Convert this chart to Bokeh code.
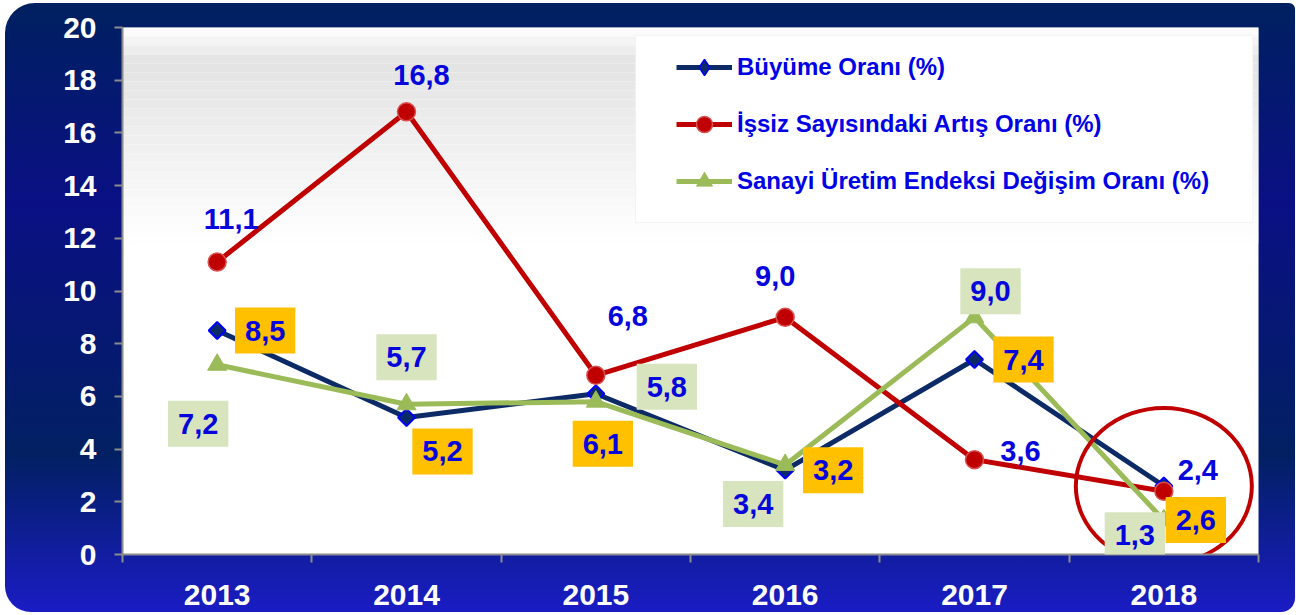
from bokeh.plotting import figure
from bokeh.models import Range1d, FixedTicker, Label, Legend, LegendItem, BoxAnnotation
from bokeh.embed import file_html
from bokeh.resources import INLINE

# ---- data ----
years = ["2013", "2014", "2015", "2016", "2017", "2018"]
buyume = [8.5, 5.2, 6.1, 3.2, 7.4, 2.6]
issiz = [11.1, 16.8, 6.8, 9.0, 3.6, 2.4]
sanayi = [7.2, 5.7, 5.8, 3.4, 9.0, 1.3]
y_ticks = [0, 2, 4, 6, 8, 10, 12, 14, 16, 18, 20]
names = ["Büyüme Oranı (%)", "İşsiz Sayısındaki Artış Oranı (%)",
         "Sanayi Üretim Endeksi Değişim Oranı (%)"]

# ---- label offsets (pixels) ----
off_buyume = [(48, 0), (36, -34), (7, -50), (48, 0), (49, 0), (32, -34)]
off_sanayi = [(-19, -59), (0, 47), (71, 15), (-32, -39), (16, 26), (-29, -15)]
off_issiz = [(14, 43), (15, 37), (32, 59), (-10, 41), (46, 9), (34, 21)]

FONT = "'Liberation Sans', Arial, sans-serif"
NAVY = "#0c2a66"
RED = "#c00000"
GREEN = "#9bbb59"
LBLUE = "#0505dc"

xs = list(range(len(years)))

p = figure(frame_width=1136, frame_height=527,
           min_border_left=117, min_border_right=37, min_border_top=24, min_border_bottom=58,
           x_range=Range1d(-0.5, len(years) - 0.5), y_range=Range1d(0, 20),
           output_backend="svg", toolbar_location=None)
p.border_fill_alpha = 0
p.background_fill_color = "white"
p.outline_line_color = None
p.grid.visible = False
p.styles = {
    "background": "linear-gradient(to bottom, #002060 0%, #0a1084 33%, #022062 74%, #1a1cc4 100%)",
    "border-radius": "30px 6px 14px 26px",
    "margin": "3px 0px 0px 5px",
}

# top gradient band in plot area (decoration)
nb = 24
for i in range(nb):
    t0 = i / nb
    t = (i + 0.5) / nb
    if t < 0.16:
        s = t / 0.16
    else:
        s = max(0.0, 1 - (t - 0.16) / 0.84)
    g = int(round(255 - 28 * s))
    col = "#%02x%02x%02x" % (g, g, g)
    top = 20 - t0 * 8.2
    bot = 20 - (i + 1) / nb * 8.2
    p.add_layout(BoxAnnotation(top=top, bottom=bot, fill_color=col, fill_alpha=1,
                               line_color=None, level="underlay"))
# legend white panel
p.add_layout(BoxAnnotation(left=2.21, right=5.47, top=19.7, bottom=12.6, fill_color="white",
                           fill_alpha=1, line_color="#f0f0f0", line_alpha=0.8, level="underlay"))

# axes
for ax in (p.xaxis[0], p.yaxis[0]):
    ax.axis_line_color = "#8c8c8c"
    ax.axis_line_width = 2
    ax.major_label_text_color = "white"
    ax.major_label_text_font = FONT
    ax.major_label_text_font_style = "bold"
    ax.major_label_text_font_size = "30px"

p.yaxis.ticker = FixedTicker(ticks=y_ticks, minor_ticks=[])
p.yaxis.major_tick_line_color = "#8c8c8c"
p.yaxis.major_tick_line_width = 2
p.yaxis.major_tick_out = 8
p.yaxis.major_tick_in = 0
p.yaxis.minor_tick_line_color = None
p.yaxis.major_label_standoff = 18

p.xaxis.ticker = FixedTicker(ticks=xs, minor_ticks=[i - 0.5 for i in range(len(years) + 1)])
p.xaxis.major_label_overrides = {i: y for i, y in enumerate(years)}
p.xaxis.major_tick_line_color = None
p.xaxis.major_tick_out = 0
p.xaxis.major_tick_in = 0
p.xaxis.minor_tick_line_color = "#8c8c8c"
p.xaxis.minor_tick_line_width = 2
p.xaxis.minor_tick_out = 8
p.xaxis.minor_tick_in = 0
p.xaxis.major_label_standoff = 22

# series
l1 = p.line(xs, buyume, line_color=NAVY, line_width=5)
m1 = p.scatter(xs, buyume, marker="square", angle=0.785398, size=12, fill_color=NAVY,
               line_color="#0000ff", line_width=2)
l2 = p.line(xs, issiz, line_color=RED, line_width=5)
m2 = p.scatter(xs, issiz, marker="circle", size=18, fill_color=RED, line_color="#d85050", line_width=1.5)
l3 = p.line(xs, sanayi, line_color=GREEN, line_width=5)
m3 = p.scatter(xs, sanayi, marker="triangle", size=19, fill_color=GREEN, line_color=GREEN)

# legend-only diamond glyph (NaN position: not drawn in the plot)
nan = float("nan")
m1_leg = p.scatter(x=[nan], y=[nan], marker="diamond", size=16, fill_color=NAVY,
                   line_color="#0000ff", line_width=1.5)

# highlight circle around 2018
p.ellipse(x=[xs[-1]], y=[buyume[-1]], width=176, height=156, width_units="screen",
          height_units="screen", fill_color=None, line_color=RED, line_width=4)

legend = Legend(items=[LegendItem(label=names[0], renderers=[l1, m1_leg]),
                       LegendItem(label=names[1], renderers=[l2, m2]),
                       LegendItem(label=names[2], renderers=[l3, m3])],
                location=(554, 353), background_fill_alpha=0, border_line_color=None,
                padding=0, margin=0, spacing=17, glyph_width=56, glyph_height=40,
                label_height=40, label_standoff=5,
                label_text_font=FONT, label_text_font_style="bold",
                label_text_font_size="24px", label_text_color="#0000e6")
p.add_layout(legend)


def fmt(v):
    return ("%.1f" % v).replace(".", ",")


def add_labels(vals, offs, bg):
    for i, (v, (dx, dy)) in enumerate(zip(vals, offs)):
        kw = {}
        if bg is not None:
            kw = dict(background_fill_color=bg, background_fill_alpha=1,
                      padding=dict(left=10, right=10, top=13, bottom=13))
        p.add_layout(Label(x=xs[i], y=v, x_offset=dx, y_offset=dy, text=fmt(v),
                           text_align="center", text_baseline="middle",
                           text_font=FONT, text_font_style="bold",
                           text_font_size="29px", text_color=LBLUE, **kw))


add_labels(issiz, off_issiz, None)
add_labels(buyume, off_buyume, "#ffc000")
add_labels(sanayi, off_sanayi, "#d7e4bd")

open("out.html", "w").write(file_html(p, INLINE))
